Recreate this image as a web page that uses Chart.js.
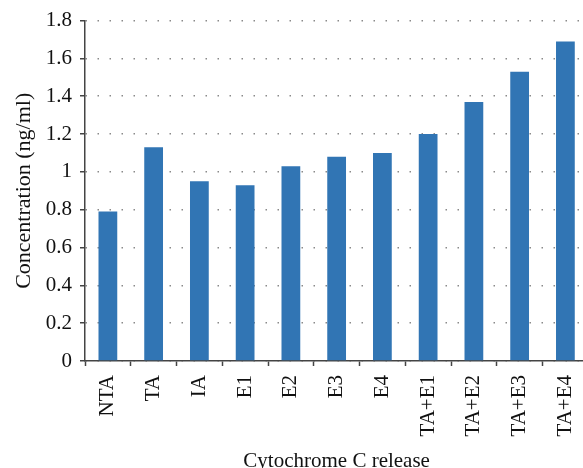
<!DOCTYPE html>
<html>
<head>
<meta charset="utf-8">
<script src="https://cdn.jsdelivr.net/npm/chart.js@4/dist/chart.umd.min.js"></script>
<style>
  html, body { margin:0; padding:0; background:#fff; overflow:hidden; }
  #wrap { width:583px; height:468px; overflow:hidden; position:relative; }
  #box { width:600px; height:480px; position:absolute; left:0; top:0; }
</style>
</head>
<body>
<div id="wrap"><div id="box"><canvas id="c" width="600" height="480"></canvas></div></div>
<script>
const categories = ["NTA", "TA", "IA", "E1", "E2", "E3", "E4", "TA+E1", "TA+E2", "TA+E3", "TA+E4"];
const concentration = [0.79, 1.13, 0.95, 0.93, 1.03, 1.08, 1.10, 1.20, 1.37, 1.53, 1.69];
const yTicks = [0, 0.2, 0.4, 0.6, 0.8, 1, 1.2, 1.4, 1.6, 1.8];
const xTitle = "Cytochrome C release";
const yTitle = "Concentration (ng/ml)";

const FONT = "'Liberation Serif', 'DejaVu Serif', serif";
const AXIS = '#444';

new Chart(document.getElementById('c'), {
  type: 'bar',
  data: {
    labels: categories,
    datasets: [{
      data: concentration,
      backgroundColor: '#3175b4',
      borderWidth: 0,
      categoryPercentage: 1,
      barPercentage: 0.41
    }]
  },
  options: {
    responsive: false,
    animation: false,
    devicePixelRatio: 1,
    layout: { padding: { top: 19, right: 9, left: 0, bottom: 0 } },
    plugins: { legend: { display: false }, tooltip: { enabled: false } },
    scales: {
      x: {
        offset: true,
        grid: { display: true, drawOnChartArea: false, drawTicks: true, tickLength: 5, offset: true, tickColor: AXIS, tickWidth: 1.5 },
        border: { display: true, color: AXIS, width: 1.5 },
        ticks: { color: '#111', font: { family: FONT, size: 21 }, maxRotation: 90, minRotation: 90, padding: 9, autoSkip: false },
        title: { display: true, text: xTitle, color: '#111', font: { family: FONT, size: 21 }, padding: { top: 0, bottom: 6 } },
        afterFit: s => { s.height = 119; }
      },
      y: {
        min: 0, max: 1.8,
        afterBuildTicks: s => { s.ticks = yTicks.map(v => ({ value: v })); },
        grid: { color: '#8a8a8a', lineWidth: 1.5, tickLength: 5, tickColor: AXIS, tickWidth: 1.5, tickBorderDash: [] },
        border: { display: true, color: AXIS, width: 1.5, dash: [1.5, 10.5] },
        ticks: { color: '#111', font: { family: FONT, size: 21 }, padding: 8,
          callback: v => String(v) },
        title: { display: true, text: yTitle, color: '#111', font: { family: FONT, size: 22 }, padding: { top: 11, bottom: 0 } },
        afterFit: s => { s.width = 85; }
      }
    }
  }
});
</script>
</body>
</html>
